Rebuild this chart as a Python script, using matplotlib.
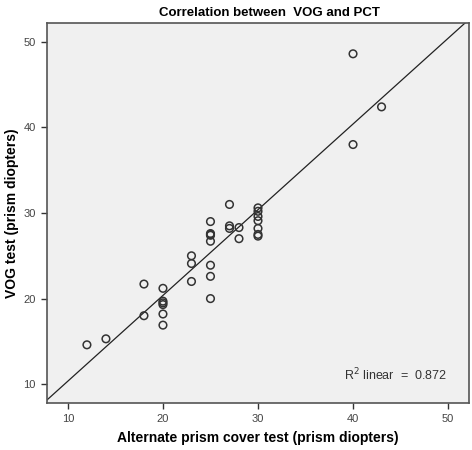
import numpy as np
import matplotlib
matplotlib.use("Agg")
import matplotlib.pyplot as plt

plt.rcParams['font.family'] = ['Liberation Sans', 'DejaVu Sans']

# alternate prism cover test (x) vs VOG test (y), prism diopters
pct = [12, 14, 18, 18, 20, 20, 20, 20, 20, 20,
       23, 23, 23, 25, 25, 25, 25, 25, 25, 25, 25,
       27, 27, 27, 28, 28,
       30, 30, 30, 30, 30, 30, 30,
       40, 40, 43]
vog = [14.6, 15.3, 21.7, 18.0, 21.2, 19.7, 19.5, 19.3, 18.2, 16.9,
       25.0, 24.1, 22.0, 29.0, 27.6, 27.4, 26.7, 23.9, 22.6, 20.0, 27.5,
       31.0, 28.5, 28.2, 28.3, 27.0,
       30.6, 30.2, 29.6, 29.1, 28.2, 27.5, 27.3,
       48.6, 38.0, 42.4]
r2_text = "R$^2$ linear  =  0.872"
ticks = [10, 20, 30, 40, 50]

fig = plt.figure(figsize=(4.72, 4.5), dpi=100)
ax = fig.add_axes([0.0996, 0.1044, 0.894, 0.8445])
ax.set_facecolor("#f0f0f0")

ax.scatter(pct, vog, s=30, facecolors="none", edgecolors="#333333", linewidths=1.1, zorder=3)

slope, intercept = np.polyfit(pct, vog, 1)
ax.axline((0, intercept), slope=slope, color="#222222", lw=0.9, zorder=2)

ax.set_xlim(7.8, 52.2)
ax.set_ylim(7.8, 52.2)
ax.set_xticks(ticks)
ax.set_yticks(ticks)
ax.tick_params(direction="out", length=4, width=1, colors="#333333",
               labelsize=8, labelcolor="#444444", pad=4)
for sp in ax.spines.values():
    sp.set_color("#555555")
    sp.set_linewidth(1.2)

ax.text(0.825, 0.075, r2_text, transform=ax.transAxes, ha="center", va="center",
        fontsize=9, color="#333333")

ax.set_title("Correlation between  VOG and PCT", fontsize=9.5, fontweight="bold", pad=5, x=0.526)
ax.set_xlabel("Alternate prism cover test (prism diopters)", fontsize=10, fontweight="bold", labelpad=5)
ax.set_ylabel("VOG test (prism diopters)", fontsize=10, fontweight="bold", labelpad=3)

fig.savefig("out.png", dpi=100)
